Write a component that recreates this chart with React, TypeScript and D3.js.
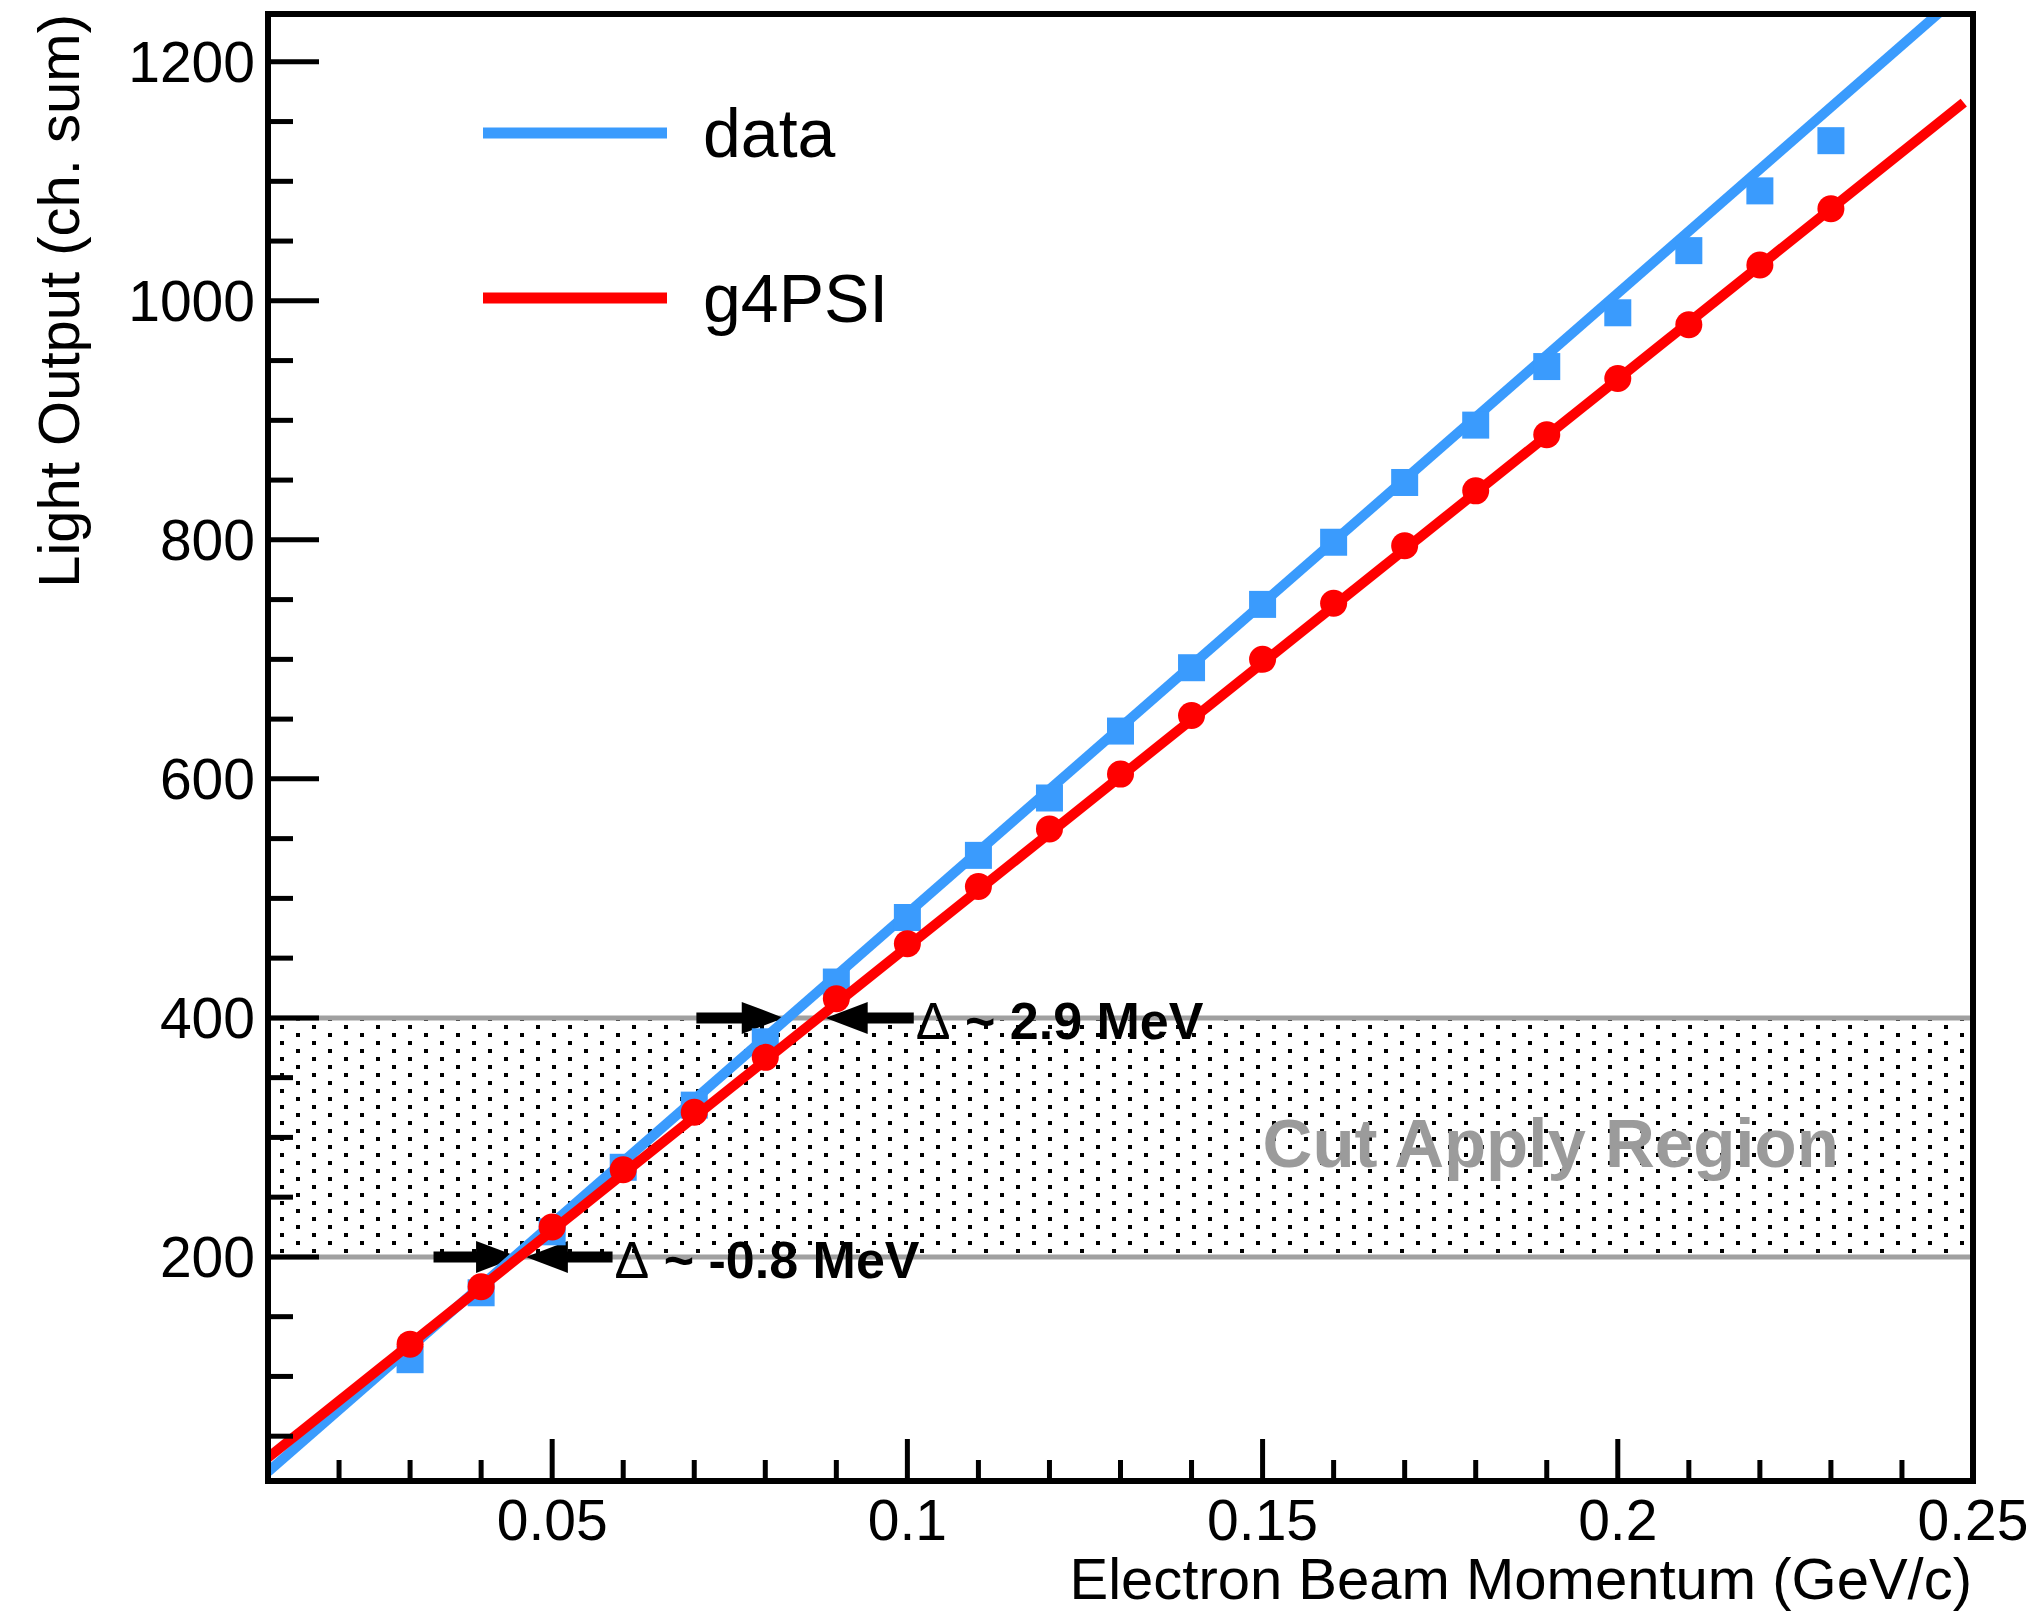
import React, { useEffect, useRef } from "react";
import * as d3 from "d3";

// beam momentum points (GeV/c)
const momentum = [
  0.03, 0.04, 0.05, 0.06, 0.07, 0.08, 0.09, 0.1, 0.11, 0.12, 0.13,
  0.14, 0.15, 0.16, 0.17, 0.18, 0.19, 0.2, 0.21, 0.22, 0.23,
];
// light output, measured (ch. sum)
const dataLight = [
  114, 170, 221, 275, 327, 380, 430, 484, 536, 584, 640,
  693, 746, 798, 848, 896, 945, 990, 1042, 1092, 1134,
];
// light output, g4PSI simulation
const g4psiLight = [
  127, 175, 225, 273, 321, 367, 416, 462, 510, 558, 604,
  653, 700, 747, 795, 841, 888, 935, 980, 1030, 1077,
];
// linear fits: [p0, p1]
const dataFit = [-31.7, 5190];
const g4psiFit = [-15.5, 4750];
const dataFitRange = [0.01, 0.25];
const g4psiFitRange = [0.01, 0.2487];

const xDomain = [0.01, 0.25];
const yDomain = [12.5, 1240];
const xTicks = [0.05, 0.1, 0.15, 0.2, 0.25];
const xTickLabels = ["0.05", "0.1", "0.15", "0.2", "0.25"];
const yTicks = [200, 400, 600, 800, 1000, 1200];
const cutRegion = [200, 400];
const legendLabels = ["data", "g4PSI"];

// arrows marking the crossing points: [tail x, tip x] at level y
const deltaMarks = [
  { y: 400, left: [0.0703, 0.0826], right: [0.1009, 0.0885], label: " ~ 2.9 MeV" },
  { y: 200, left: [0.0333, 0.0452], right: [0.0585, 0.0463], label: " ~ -0.8 MeV" },
];

const BLUE = "#3a9bfd";
const RED = "#ff0000";
const FONT = "'Liberation Sans', Arial, Helvetica, sans-serif";

const App = () => {
  const ref = useRef(null);

  useEffect(() => {
    const width = 2034;
    const height = 1614;
    const left = 268, right = 1973, top = 14, bottom = 1481;

    const svg = d3.select(ref.current)
      .append("svg")
      .attr("width", width)
      .attr("height", height)
      .style("display", "block")
      .style("position", "absolute")
      .style("left", 0)
      .style("top", 0)
      .style("background", "#fff")
      .style("font-family", FONT);

    const x = d3.scaleLinear().domain(xDomain).range([left, right]);
    const y = d3.scaleLinear().domain(yDomain).range([bottom, top]);

    const defs = svg.append("defs");
    const pat = defs.append("pattern")
      .attr("id", "dots")
      .attr("patternUnits", "userSpaceOnUse")
      .attr("width", 32)
      .attr("height", 16);
    pat.append("rect").attr("x", 24).attr("y", 1).attr("width", 4).attr("height", 4).attr("fill", "#000");
    pat.append("rect").attr("x", 8).attr("y", 9).attr("width", 4).attr("height", 4).attr("fill", "#000");

    defs.append("clipPath").attr("id", "plotclip")
      .append("rect")
      .attr("x", left).attr("y", top)
      .attr("width", right - left).attr("height", bottom - top);

    // cut region band
    svg.append("rect")
      .attr("x", left)
      .attr("y", y(cutRegion[1]))
      .attr("width", right - left)
      .attr("height", y(cutRegion[0]) - y(cutRegion[1]))
      .attr("fill", "url(#dots)");

    svg.append("g")
      .selectAll("line")
      .data(cutRegion)
      .join("line")
      .attr("x1", left).attr("x2", right)
      .attr("y1", d => y(d)).attr("y2", d => y(d))
      .attr("stroke", "#a0a0a0")
      .attr("stroke-width", 5);

    svg.append("text")
      .attr("x", x(0.1500))
      .attr("y", y(275))
      .attr("font-size", 69)
      .attr("font-weight", "bold")
      .attr("fill", "#9b9b9b")
      .text("Cut Apply Region");

    // arrows
    const arrows = svg.append("g");
    const drawArrow = (x0, x1, yv) => {
      const px0 = x(x0), px1 = x(x1), py = y(yv);
      const dir = Math.sign(px1 - px0);
      const headLen = 42, headHalf = 16;
      const base = px1 - dir * headLen;
      arrows.append("line")
        .attr("x1", px0).attr("x2", base + dir * 2)
        .attr("y1", py).attr("y2", py)
        .attr("stroke", "#000")
        .attr("stroke-width", 11);
      arrows.append("path")
        .attr("d", `M${px1},${py}L${base},${py - headHalf}L${base},${py + headHalf}Z`)
        .attr("fill", "#000");
    };
    deltaMarks.forEach(m => {
      drawArrow(m.left[0], m.left[1], m.y);
      drawArrow(m.right[0], m.right[1], m.y);
      const t = arrows.append("text")
        .attr("x", x(m.right[0]) + 2)
        .attr("y", y(m.y) + 21)
        .attr("font-size", 52);
      t.append("tspan").attr("font-weight", "normal").text("\u0394");
      t.append("tspan").attr("font-weight", "bold").text(m.label);
    });

    const line = d3.line().x(d => x(d[0])).y(d => y(d[1]));
    const fitPoints = (p, range) => range.map(v => [v, p[0] + p[1] * v]);

    // data: fit + square markers
    const plot = svg.append("g").attr("clip-path", "url(#plotclip)");
    plot.append("path")
      .attr("d", line(fitPoints(dataFit, dataFitRange)))
      .attr("fill", "none")
      .attr("stroke", BLUE)
      .attr("stroke-width", 10);
    plot.append("g")
      .selectAll("rect")
      .data(momentum.map((m, i) => [m, dataLight[i]]))
      .join("rect")
      .attr("x", d => x(d[0]) - 13.5)
      .attr("y", d => y(d[1]) - 13.5)
      .attr("width", 27)
      .attr("height", 27)
      .attr("fill", BLUE);

    // g4PSI: fit + circle markers
    plot.append("path")
      .attr("d", line(fitPoints(g4psiFit, g4psiFitRange)))
      .attr("fill", "none")
      .attr("stroke", RED)
      .attr("stroke-width", 10);
    plot.append("g")
      .selectAll("circle")
      .data(momentum.map((m, i) => [m, g4psiLight[i]]))
      .join("circle")
      .attr("cx", d => x(d[0]))
      .attr("cy", d => y(d[1]))
      .attr("r", 13.5)
      .attr("fill", RED);

    // frame
    svg.append("rect")
      .attr("x", left).attr("y", top)
      .attr("width", right - left).attr("height", bottom - top)
      .attr("fill", "none")
      .attr("stroke", "#000")
      .attr("stroke-width", 6);

    // x ticks
    const xMinor = d3.range(2, 25).map(i => i / 100).filter(v => Math.round(v * 100) % 5 !== 0);
    const axes = svg.append("g").attr("stroke", "#000").attr("stroke-width", 5);
    axes.selectAll(".xmaj")
      .data(xTicks)
      .join("line")
      .attr("x1", d => x(d)).attr("x2", d => x(d))
      .attr("y1", bottom).attr("y2", bottom - 42);
    axes.selectAll(".xmin")
      .data(xMinor)
      .join("line")
      .attr("class", "xmin")
      .attr("x1", d => x(d)).attr("x2", d => x(d))
      .attr("y1", bottom).attr("y2", bottom - 21);

    // y ticks
    const yMinor = d3.range(50, 1201, 50).filter(v => v % 200 !== 0);
    axes.selectAll(".ymaj")
      .data(yTicks)
      .join("line")
      .attr("class", "ymaj")
      .attr("x1", left).attr("x2", left + 51)
      .attr("y1", d => y(d)).attr("y2", d => y(d));
    axes.selectAll(".ymin")
      .data(yMinor)
      .join("line")
      .attr("class", "ymin")
      .attr("x1", left).attr("x2", left + 25)
      .attr("y1", d => y(d)).attr("y2", d => y(d));

    // tick labels
    svg.append("g")
      .selectAll("text")
      .data(xTicks)
      .join("text")
      .attr("x", d => x(d))
      .attr("y", 1540)
      .attr("text-anchor", "middle")
      .attr("font-size", 57)
      .text((d, i) => xTickLabels[i]);

    svg.append("g")
      .selectAll("text")
      .data(yTicks)
      .join("text")
      .attr("x", 255)
      .attr("y", d => y(d) + 20)
      .attr("text-anchor", "end")
      .attr("font-size", 57)
      .text(d => d);

    // axis titles
    svg.append("text")
      .attr("x", 1972)
      .attr("y", 1599)
      .attr("text-anchor", "end")
      .attr("font-size", 58)
      .text("Electron Beam Momentum (GeV/c)");

    svg.append("text")
      .attr("transform", `translate(78.5,${top}) rotate(-90)`)
      .attr("text-anchor", "end")
      .attr("font-size", 58)
      .text("Light Output (ch. sum)");

    // legend
    const legend = svg.append("g");
    const legendY = [133, 298];
    const legendColors = [BLUE, RED];
    legendLabels.forEach((lab, i) => {
      legend.append("line")
        .attr("x1", 483).attr("x2", 667)
        .attr("y1", legendY[i]).attr("y2", legendY[i])
        .attr("stroke", legendColors[i])
        .attr("stroke-width", 11);
      legend.append("text")
        .attr("x", 703)
        .attr("y", legendY[i] + 24)
        .attr("font-size", 68)
        .text(lab);
    });

    return () => {
      d3.select(ref.current).select("svg").remove();
    };
  }, []);

  return <div ref={ref} style={{ width: 2034, height: 1614 }}></div>;
};

export default App;
